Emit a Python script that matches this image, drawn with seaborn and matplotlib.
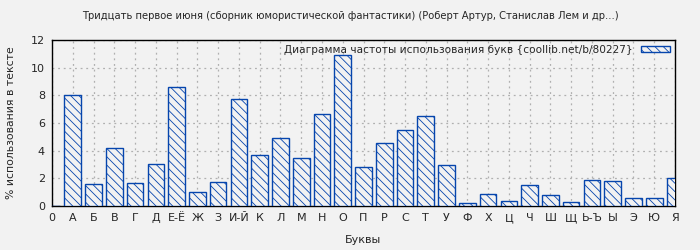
import matplotlib
matplotlib.use("Agg")
import matplotlib.pyplot as plt
import seaborn as sns
import pandas as pd

letters = ["0", "А", "Б", "В", "Г", "Д", "Е-Ё", "Ж", "З", "И-Й", "К", "Л", "М", "Н",
           "О", "П", "Р", "С", "Т", "У", "Ф", "Х", "Ц", "Ч", "Ш", "Щ", "Ь-Ъ", "Ы",
           "Э", "Ю", "Я"]
percent = [0.0, 8.0, 1.57, 4.22, 1.64, 3.07, 8.57, 0.99, 1.71, 7.7, 3.66, 4.88, 3.45,
           6.62, 10.88, 2.8, 4.52, 5.47, 6.48, 2.93, 0.2, 0.85, 0.36, 1.5, 0.77,
           0.27, 1.86, 1.79, 0.56, 0.56, 2.0]

title = "Тридцать первое июня (сборник юмористической фантастики) (Роберт Артур, Станислав Лем и др...)"
legend_label = "Диаграмма частоты использования букв {coollib.net/b/80227}"

sns.set_style("white")
plt.rcParams["font.family"] = ["DejaVu Sans"]
plt.rcParams["hatch.linewidth"] = 0.6

bg = "#f2f2f2"
blue = "#0645ad"

fig = plt.figure(figsize=(7, 2.5), dpi=100, facecolor=bg)
ax = fig.add_axes([52/700, 44/250, 623/700, 166/250])
ax.set_facecolor(bg)

df = pd.DataFrame({"letter": letters, "pct": percent})
sns.barplot(data=df, x="letter", y="pct", ax=ax, color=bg, width=0.8,
            edgecolor=blue, linewidth=1.0, label=legend_label, zorder=3)
for p in ax.patches:
    p.set_hatch("\\\\\\\\")
    p.set_facecolor(bg)
    p.set_edgecolor(blue)

ax.set_xlim(0, len(letters) - 1)
ax.set_ylim(0, 12)
ax.set_yticks(range(0, 13, 2))
ax.grid(True, color="#b0b0b0", linestyle=(0, (1.5, 3)), linewidth=0.9, zorder=0)
ax.set_axisbelow(True)
for s in ax.spines.values():
    s.set_color("black")
    s.set_linewidth(1.0)
ax.tick_params(axis="both", labelsize=8, length=3, width=0.8, color="black", pad=2)
ax.set_xlabel("Буквы", fontsize=8, labelpad=9)
ax.set_ylabel("% использования в тексте", fontsize=7.8, labelpad=11)
fig.suptitle(title, fontsize=7.2, y=0.955)

leg = ax.legend(loc="upper right", frameon=False, fontsize=7.6, handlelength=2.8,
                handleheight=0.6, markerfirst=False, borderaxespad=0.15,
                handletextpad=0.8, borderpad=0.3)

fig.savefig("out.png", dpi=100, facecolor=bg)
